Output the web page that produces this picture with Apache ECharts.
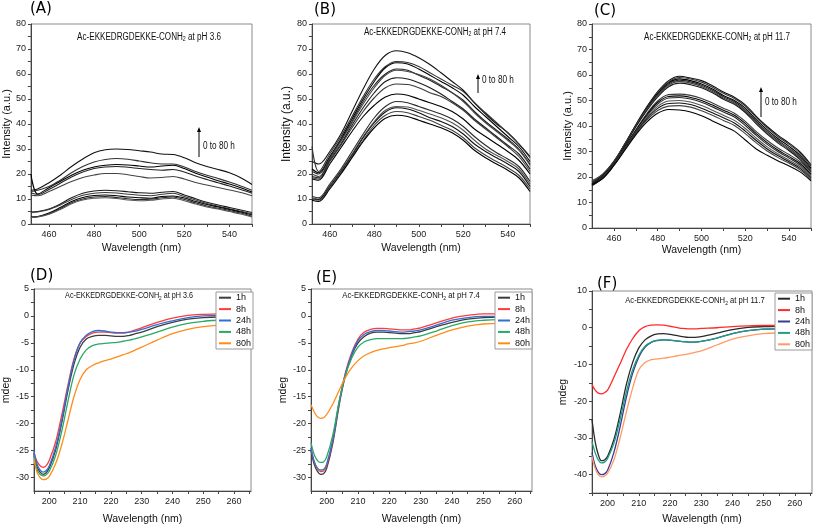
<!DOCTYPE html>
<html><head><meta charset="utf-8">
<script src="https://cdn.jsdelivr.net/npm/echarts@6/dist/echarts.min.js"></script>
<style>html,body{margin:0;padding:0;background:#fff}#c{width:813px;height:526px}</style>
</head><body><div id="c"></div>
<script>
// ---------- Fluorescence spectra (A, B, C) ----------
const wlAB = [452,455,460,465,470,475,480,485,490,495,500,505,510,515,520,525,530,535,540,545,550];
const wlC  = [450,455,460,465,470,475,480,485,490,495,500,505,510,515,520,525,530,535,540,545,550];

const fluorA = [
  [13.5,14,16.5,19.5,23,26,28.5,29.7,30,29.8,29.3,28.8,28,27.8,26.5,24.5,23,21.8,20.5,18.5,15.8],
  [13,13.5,15,17.5,20.5,23,24.8,25.8,26.2,25.9,25.2,24.5,24,24,22.8,21,19.5,18.2,16.8,15.2,13.5],
  [20,12,14.5,17,19.5,21.5,22.8,23.5,23.8,23.6,23.2,22.8,23.2,23.5,22.2,20.3,18.8,17.3,16,14.5,12.8],
  [12.5,11.8,13.8,16.3,18.8,20.8,22.2,22.8,23,22.7,22.2,21.8,21.5,21.8,20.8,19.2,17.8,16.5,15.2,13.8,12.3],
  [11.5,11.3,13,15,17,18.6,19.6,20.2,20.2,19.7,19,18.4,18.6,19,18,16.6,15.6,14.6,13.6,12.6,11.3],
  [4.8,5,6,8,10.5,12.3,13.2,13.5,13.3,12.9,12.5,12.3,12.7,13,11.6,10.1,8.7,7.6,6.6,5.6,4.6],
  [4.6,4.8,5.8,7.6,9.8,11.5,12.3,12.6,12.4,11.9,11.5,11.3,11.9,12.3,11,9.6,8.2,7.1,6.1,5.1,4.1],
  [2.8,3,4.4,6.6,9,10.6,11.4,11.6,11.3,10.8,10.5,10.3,11,11.2,10.4,9,7.8,6.8,5.8,4.8,3.6],
  [2.7,2.9,4.1,6.1,8.5,10,10.8,11,10.6,10.1,9.8,9.9,10.5,10.8,9.8,8.5,7.2,6.3,5.4,4.4,3.1],
  [2.6,2.8,3.9,5.8,8.1,9.6,10.3,10.5,10.2,9.6,9.3,9.5,10,10.3,9.3,8,6.8,6,5,4,2.8]
];
const fluorB = [
  [25,24,29,36,45,54,62,67.5,69.3,68.5,66.5,63.8,60.5,57,53.5,48.5,44,40,36.5,32,27],
  [31,21,28,35,43,51,58,63,65,64.6,63,60.5,58,55.5,53,48.5,44.5,40.5,36.5,32,26.5],
  [22,20.5,27,34,42,50,57,62.5,64.5,64,62,59.5,57,54.5,51.5,47,43,39,35,31,25],
  [21,20,26.5,33.5,41,49,55.5,60,62,61.5,59.5,57.5,55,52.5,49.5,45,41,37.5,34,30,24],
  [20,19,26,33,40.5,48,54.5,59.5,61.5,61,59.8,58,55.5,52.5,49,44.5,40.5,37,33.5,29.5,23.5],
  [19,18.5,25.5,32,39.5,46.5,52.5,57,58.5,58,56.5,54.5,52,49,46,42,38.5,35,31.5,28,22],
  [18.5,18,25,31.5,38.5,45,50.5,54.5,56,55.8,54.5,52.5,51,48.5,45.5,41.5,38,34.5,31,27,21],
  [18,17.5,24,30.5,37,43,47.5,50.8,52,51.5,50,48.5,47,45,42,38,35,32,29,25.5,20],
  [11,10.5,16,22,29,36,42.5,47,49,48.5,47,45.5,44,42,39,35,31.5,28.5,26,23,17],
  [10.5,10,15.5,21.5,28,35,41,45.5,47,46.8,45.5,44,42.5,40.5,37.5,33.5,30,27.5,25,22,16],
  [10,9.8,15,21,27.5,34.5,40.5,44.8,46.5,46,44.5,42.5,41,39,36,32,29,26.5,24,21,15],
  [10,9.5,14.5,20.5,27,33.5,39.5,43.5,45,44.5,43,41.5,39.5,37.5,34.5,30.5,27.5,25,22.5,19.5,14],
  [9.5,9,14,20,26.5,33,38.5,42.3,43.5,43,41.5,40,38.5,36.5,33.5,29.5,26.5,24,21.5,18.5,13]
];
const fluorC = [
  [18,21,26,33,40.5,47.5,53.5,57.8,59.5,58.8,57.8,55.8,53.3,51.3,48.3,43.8,39.8,36.3,33.3,29.8,24.8],
  [18.5,21.2,26.2,33,40.3,47.2,53,57.3,59,58.4,57.2,55.2,52.8,50.8,47.8,43.3,39.3,35.8,32.8,29.3,24.2],
  [17.5,20.8,25.8,32.7,40,46.8,52.6,56.9,58.5,57.8,56.5,54.5,52,50,47,42.5,38.5,35,32,28.5,23.5],
  [17.8,20.9,25.9,32.8,40.2,46.9,52.4,56.5,58,57.3,56,54,51.5,49.5,46.3,41.8,37.8,34.3,31.3,27.8,23],
  [18.2,21,26,32.8,40,46.5,52,56,57.5,56.8,55.5,53.5,51,49,45.8,41.3,37.3,33.8,30.8,27.3,22.5],
  [17.3,20.6,25.6,32.4,39.6,46,51.4,55.4,56.8,56.2,55,53,50.5,48.5,45.3,40.8,36.8,33.3,30.3,26.8,22],
  [17.5,20.2,25.2,31.8,38.5,44.8,49.8,52.3,52.5,52,50.8,49,47,45,41.8,37.8,34.3,31.3,28.8,26,22],
  [17.2,20,25,31.6,38.2,44.3,49.2,51.6,51.8,51.2,50,48.2,46.2,44.2,41,37,33.5,30.5,28,25.3,21.2],
  [17,19.9,24.9,31.4,37.9,43.9,48.6,51,51.2,50.6,49.3,47.5,45.5,43.5,40.2,36.3,32.8,29.9,27.4,24.7,20.6],
  [16.8,19.8,24.8,31.2,37.6,43.3,47.7,49.8,50,49.4,48,46.2,44.2,42.2,39,35.2,31.8,29,26.6,24,20],
  [16.6,19.7,24.7,31,37.3,42.8,46.9,48.8,49,48.4,47,45.2,43.2,41.2,38,34.3,31,28.3,26,23.4,19.5],
  [16.8,19.6,24.6,30.8,37,42.3,46.1,47.8,48,47.4,46,44.2,42.2,40.2,37,33.4,30.2,27.6,25.4,22.8,19],
  [17,19.5,24.5,30.5,36.5,41.5,45,46.5,46.3,45.5,44,42,40,38,34.5,31,28.5,26.3,24.3,22,18.5]
];

// ---------- CD spectra (D, E, F) ----------
const wlCD = [195,196,197,198,199,200,202,204,206,208,210,212,214,216,218,220,222,224,226,228,230,235,240,245,250,255,260];
const times = ['1h','8h','24h','48h','80h'];

const cdD = [
  [-25.5,-28,-29,-29.4,-29.1,-28.2,-25,-20,-14,-9,-5.8,-4.3,-3.8,-3.6,-3.6,-3.7,-3.8,-3.8,-3.6,-3.3,-3,-2,-1.2,-0.6,-0.3,-0.2,-0.2],
  [-25.5,-27,-27.8,-28.1,-27.8,-26.8,-23.5,-18.5,-13,-8,-5,-3.8,-3.2,-3,-3,-3.1,-3.2,-3.2,-3,-2.6,-2.2,-1.2,-0.4,0.1,0.3,0.4,0.4],
  [-25,-27.5,-28.6,-29,-28.7,-27.8,-24.5,-19.5,-13.5,-8.3,-5,-3.6,-2.9,-2.7,-2.8,-3,-3.1,-3.1,-3,-2.8,-2.5,-1.6,-0.9,-0.3,0,0.1,0.1],
  [-26,-28.5,-29.4,-29.7,-29.5,-28.8,-26,-21.5,-16,-11,-8,-6.3,-5.5,-5.2,-5.1,-5,-4.9,-4.7,-4.5,-4.2,-3.9,-3,-2.1,-1.4,-1,-0.8,-0.8],
  [-26.5,-29,-30,-30.4,-30.3,-29.8,-27.5,-24,-19.5,-15,-11.8,-10,-9.2,-8.7,-8.3,-8,-7.6,-7.2,-6.8,-6.3,-5.8,-4.5,-3.3,-2.5,-2,-1.7,-1.6]
];
const cdE = [
  [-25,-27.5,-28.8,-29.4,-29.3,-28.3,-23.5,-16.5,-11,-7.3,-5,-3.8,-3.2,-3,-3,-3.1,-3.2,-3.3,-3.3,-3.1,-2.9,-2,-1.2,-0.6,-0.3,-0.2,-0.2],
  [-24.5,-27,-28.3,-28.9,-28.8,-27.8,-23,-16,-10.5,-6.8,-4.3,-3,-2.5,-2.3,-2.3,-2.4,-2.5,-2.6,-2.6,-2.4,-2.2,-1.3,-0.4,0.1,0.4,0.4,0.4],
  [-24.5,-27,-28.2,-28.6,-28.5,-27.5,-22.8,-16,-10.7,-7.1,-4.6,-3.4,-2.9,-2.7,-2.7,-2.8,-2.9,-3,-2.9,-2.8,-2.6,-1.7,-0.8,-0.3,-0.1,-0.1,-0.1],
  [-23.5,-25.7,-26.8,-27.2,-27.1,-26.2,-22,-15.8,-11,-7.8,-5.8,-4.8,-4.4,-4.2,-4.2,-4.2,-4.2,-4.2,-4.1,-3.9,-3.7,-2.8,-1.8,-1.1,-0.8,-0.7,-0.7],
  [-16.5,-17.8,-18.7,-19,-18.9,-18.3,-16.3,-13.8,-11.4,-9.6,-8.3,-7.4,-6.8,-6.4,-6.1,-5.9,-5.7,-5.5,-5.2,-5,-4.7,-3.6,-2.6,-1.9,-1.5,-1.4,-1.4]
];
const cdF = [
  [-25,-31,-34.5,-36.2,-36,-35,-30.5,-23.5,-15.5,-9.5,-5.5,-3.3,-2.2,-1.7,-1.6,-1.8,-2.1,-2.4,-2.6,-2.6,-2.4,-1.5,-0.5,0.1,0.3,0.4,0.4],
  [-15.5,-17,-17.8,-18,-17.7,-17,-13.5,-9.8,-6,-3,-0.8,0.3,0.7,0.8,0.7,0.4,0.1,-0.2,-0.3,-0.3,-0.2,0,0.3,0.5,0.6,0.6,0.6],
  [-34,-37.5,-39.3,-40,-39.8,-38.8,-34,-27,-19,-12.5,-8,-5.3,-4,-3.5,-3.3,-3.4,-3.6,-3.8,-3.9,-3.9,-3.7,-2.8,-1.6,-0.8,-0.4,-0.3,-0.3],
  [-31,-34,-36,-36.8,-36.6,-35.6,-31.5,-25,-17.5,-11.5,-7.5,-5,-3.9,-3.4,-3.3,-3.4,-3.6,-3.8,-3.9,-3.9,-3.7,-2.8,-1.6,-0.8,-0.4,-0.3,-0.3],
  [-35,-38.3,-40,-40.6,-40.4,-39.6,-36,-30,-23,-16.5,-11.5,-9.5,-8.7,-8.5,-8.3,-8,-7.7,-7.4,-7.1,-6.7,-6.3,-4.7,-3.1,-2.2,-1.6,-1.4,-1.3]
];

// ---------- tick labels ----------
const flXLabels = [460,480,500,520,540];
const flXTicks  = [460,470,480,490,500,510,520,530,540,550];
const flYLabels = [0,10,20,30,40,50,60,70,80];
const flYTicks  = [0,5,10,15,20,25,30,35,40,45,50,55,60,65,70,75,80];
const cdXLabels = [200,210,220,230,240,250,260];
const cdXTicks  = [195,200,205,210,215,220,225,230,235,240,245,250,255,260,265];
const cdYLabelsDE = [-30,-25,-20,-15,-10,-5,0,5];
const cdYTicksDE  = [-30,-27.5,-25,-22.5,-20,-17.5,-15,-12.5,-10,-7.5,-5,-2.5,0,2.5,5];
const cdYLabelsF  = [-40,-30,-20,-10,0,10];
const cdYTicksF   = [-45,-40,-35,-30,-25,-20,-15,-10,-5,0,5,10];

// ---------- styling / layout ----------
const FONT = "'Liberation Sans', Arial, sans-serif";
const grids = [
  {left:29, top:24, width:223, height:200},
  {left:312, top:24, width:218, height:200},
  {left:592, top:24, width:219, height:204},
  {left:29, top:289, width:222, height:202},
  {left:311, top:289, width:221, height:202},
  {left:592, top:291, width:220, height:202}
].map(g => Object.assign({show:true, borderColor:'#8a8a8a', borderWidth:1, backgroundColor:'transparent'}, g));

function xAx(gi, min, max, labels, ticks, gap) {
  return {gridIndex:gi, type:'value', min, max,
    name:'Wavelength (nm)', nameLocation:'middle', nameGap:gap,
    nameTextStyle:{fontSize:10.5, fontFamily:FONT, color:'#111'},
    axisLine:{show:true, onZero:false, lineStyle:{color:'#444', width:1}},
    axisTick:{show:true, inside:false, length:3, customValues:ticks, lineStyle:{color:'#444'}},
    axisLabel:{customValues:labels, fontSize:9, fontFamily:FONT, color:'#222', margin:6},
    splitLine:{show:false}};
}
function yAx(gi, min, max, labels, ticks, name, gap, nfs) {
  return {gridIndex:gi, type:'value', min, max,
    name, nameLocation:'middle', nameGap:gap,
    nameTextStyle:{fontSize:nfs, fontFamily:FONT, color:'#111'},
    axisLine:{show:true, onZero:false, lineStyle:{color:'#444', width:1}},
    axisTick:{show:true, inside:false, length:3, customValues:ticks, lineStyle:{color:'#444'}},
    axisLabel:{customValues:labels, fontSize:9, fontFamily:FONT, color:'#222', margin:5},
    splitLine:{show:false}};
}

const flColors = ['#111','#333','#000','#222','#444','#1a1a1a','#3a3a3a','#000','#2a2a2a','#555','#111','#444','#000'];
function flSeries(gi, wl, curves) {
  return curves.map((c, i) => ({
    type:'line', xAxisIndex:gi, yAxisIndex:gi, silent:true, symbol:'none', showSymbol:false,
    smooth:0.35, clip:true, data: wl.map((w, j) => [w, c[j]]),
    lineStyle:{width:1.1, color:flColors[i % flColors.length]}
  }));
}
function cdSeries(gi, tag, curves, colors) {
  return curves.map((c, i) => ({
    name: tag + '|' + times[i],
    type:'line', xAxisIndex:gi, yAxisIndex:gi, silent:true, symbol:'none', showSymbol:false,
    smooth:0.35, clip:true, data: wlCD.map((w, j) => [w, c[j]]),
    itemStyle:{color:colors[i]}, lineStyle:{width:1.3, color:colors[i]}
  }));
}
const colDE = ['#3c3c3c','#ff3b3b','#2f6fd6','#2aa866','#ff8c1a'];
const colF  = ['#2a2a2a','#ff2a2a','#3a3c96','#1d9e80','#ff9a66'];

function legendAt(tag, left, top) {
  return {show:true, orient:'vertical', left, top, selectedMode:false,
    data: times.map(t => tag + '|' + t), formatter: n => n.split('|')[1],
    icon:'rect', itemWidth:12, itemHeight:2, itemGap:0, padding:[0,2,0,3],
    backgroundColor:'#fff', borderColor:'#9a9a9a', borderWidth:1,
    textStyle:{fontSize:9, lineHeight:11.4, fontFamily:FONT, color:'#111'}};
}

function richTitle(cx, cy, ph, fs, sx) {
  return {type:'text', x:cx, y:cy, scaleX:sx, silent:true, z:10,
    style:{text:'{n|Ac-EKKEDRGDEKKE-CONH}{s|2}{n| at pH ' + ph + '}',
      x:0, y:0, align:'center', verticalAlign:'middle', textAlign:'center', textVerticalAlign:'middle',
      rich:{n:{fontSize:fs, lineHeight:fs+2, fontFamily:FONT, fill:'#111', color:'#111'},
            s:{fontSize:fs*0.65, lineHeight:5, verticalAlign:'bottom', fontFamily:FONT, fill:'#111', color:'#111'}}}};
}
function letter(x, cy, t) {
  return {type:'text', x, y:cy, silent:true,
    style:{text:t, x:0, y:0, align:'left', verticalAlign:'middle', textAlign:'left', textVerticalAlign:'middle',
      font:"15px 'DejaVu Sans'", fill:'#000'}};
}
function arrow(x, yFrom, yTo, tx, ty) {
  return [
    {type:'line', silent:true, shape:{x1:x, y1:yFrom, x2:x, y2:yTo+4}, style:{stroke:'#000', lineWidth:1}},
    {type:'polygon', silent:true, shape:{points:[[x-2,yTo+5],[x+2,yTo+5],[x,yTo]]}, style:{fill:'#000'}},
    {type:'text', x:tx, y:ty, scaleX:0.82, silent:true,
      style:{text:'0 to 80 h', x:0, y:0, align:'left', verticalAlign:'middle', textAlign:'left', textVerticalAlign:'middle',
        font:"10px 'Liberation Sans'", fill:'#111'}}
  ];
}

const option = {
  animation:false, backgroundColor:'#fff',
  grid: grids,
  xAxis:[
    xAx(0, 452, 550, flXLabels, flXTicks, 19),
    xAx(1, 452, 550, flXLabels, flXTicks, 19),
    xAx(2, 450, 550, flXLabels, flXTicks, 17),
    xAx(3, 195, 265.5, cdXLabels, cdXTicks, 23),
    xAx(4, 195, 265.5, cdXLabels, cdXTicks, 23),
    xAx(5, 195, 265.5, cdXLabels, cdXTicks, 21)
  ],
  yAxis:[
    yAx(0, 0, 80, flYLabels, flYTicks, 'Intensity (a.u.)', 18, 11),
    yAx(1, 0, 80, flYLabels, flYTicks, 'Intensity (a.u.)', 16, 12),
    yAx(2, 0, 80, flYLabels, flYTicks, 'Intensity (a.u.)', 16, 11),
    yAx(3, -32.5, 5, cdYLabelsDE, cdYTicksDE, 'mdeg', 19, 10.5),
    yAx(4, -32.5, 5, cdYLabelsDE, cdYTicksDE, 'mdeg', 20, 10.5),
    yAx(5, -45, 10, cdYLabelsF, cdYTicksF, 'mdeg', 23, 10.5)
  ],
  legend:[ legendAt('D', 216, 292), legendAt('E', 495, 292), legendAt('F', 775, 293) ],
  series:[].concat(
    flSeries(0, wlAB, fluorA),
    flSeries(1, wlAB, fluorB),
    flSeries(2, wlC, fluorC),
    cdSeries(3, 'D', cdD, colDE),
    cdSeries(4, 'E', cdE, colDE),
    cdSeries(5, 'F', cdF, colF)
  ),
  graphic:{elements:[
    letter(30, 9, '(A)'), letter(314, 10, '(B)'), letter(594, 11, '(C)'),
    letter(30, 276, '(D)'), letter(316, 278, '(E)'), letter(597, 284, '(F)'),
    richTitle(149, 37, '3.6', 10, 0.81),
    richTitle(435, 32, '7.4', 10, 0.8),
    richTitle(717, 37, '11.7', 10, 0.8),
    richTitle(129, 296, '3.6', 9, 0.8),
    richTitle(411, 296, '7.4', 9, 0.86),
    richTitle(695, 301, '11.7', 9, 0.85)
  ].concat(arrow(199, 157, 127, 203, 146), arrow(478, 93, 74, 482, 80), arrow(761, 117, 87, 765, 102))}
};
const chart = echarts.init(document.getElementById('c'), null, {renderer:'canvas'});
chart.setOption(option);
</script>
</body></html>
